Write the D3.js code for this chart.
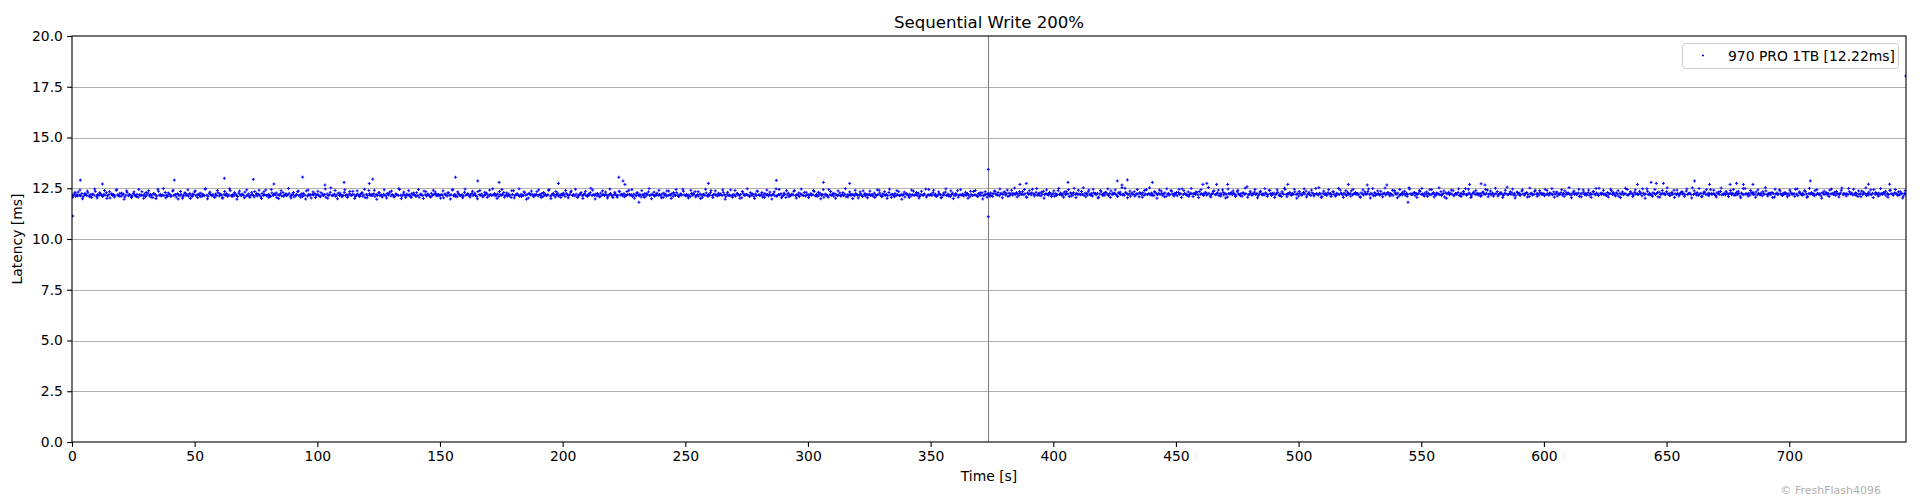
<!DOCTYPE html>
<html><head><meta charset="utf-8">
<script src="https://cdn.jsdelivr.net/npm/d3@7"></script>
<style>body{margin:0;background:#fff;} text{font-family:"DejaVu Sans",sans-serif;}</style>
</head><body><svg id="chart" width="1920" height="500"></svg>
<script>
const chartTitle = "Sequential Write 200%";
const seriesName = "970 PRO 1TB [12.22ms]";
const xLabel = "Time [s]";
const yLabel = "Latency [ms]";
const credit = "© FreshFlash4096";
const xTicks = [0,50,100,150,200,250,300,350,400,450,500,550,600,650,700];
const yTicks = [0,2.5,5,7.5,10,12.5,15,17.5,20];
const xDomain = [0, 747.6];
const yDomain = [0, 20];
const markerTime = 373.5;
const sampleStep = 0.5;
const firstStart = 0;
const secondStart = 373.5;
const extraStart = 0.25;
const extraStep = 1.0;

const latencyFirst = [
12.18,12.15,12.22,12.10,12.19,12.31,12.16,12.13,12.24,12.08,12.17,12.20,12.14,12.27,12.12,12.18,12.05,12.21,12.16,12.35,12.11,12.19,12.14,12.23,12.17,
12.09,12.20,12.16,12.28,12.13,12.18,12.02,12.22,12.15,12.19,12.12,12.40,12.17,12.14,12.25,12.10,12.18,12.21,12.07,12.16,12.30,12.13,12.19,12.15,12.11,
12.24,12.17,12.12,12.20,12.06,12.18,12.15,12.33,12.14,12.21,12.09,12.17,12.26,12.13,12.19,12.16,12.04,12.22,12.18,12.11,12.45,12.15,12.20,12.13,12.17,
12.14,12.29,12.16,12.10,12.21,12.18,12.12,12.36,12.15,12.19,12.07,12.23,12.17,12.13,12.20,12.01,12.16,12.27,12.14,12.18,12.11,12.24,12.16,12.09,12.19,
12.32,12.13,12.17,12.20,12.15,12.08,12.22,12.18,12.14,12.48,12.16,12.11,12.25,12.19,12.13,12.17,12.06,12.21,12.15,12.28,12.12,12.18,12.16,12.03,12.20,
12.15,12.23,12.10,12.17,12.38,12.14,12.19,12.12,12.21,12.16,12.09,12.26,12.18,12.13,12.20,12.15,12.31,12.11,12.17,12.22,12.05,12.16,12.19,12.14,12.34,
12.17,12.12,12.20,12.16,12.08,12.24,12.15,12.18,12.42,12.13,12.19,12.16,12.10,12.27,12.14,12.21,12.17,12.04,12.18,12.15,12.23,12.12,12.29,12.16,12.19,
12.13,12.18,12.25,12.11,12.16,12.20,12.07,12.15,12.19,12.33,12.14,12.17,12.22,12.09,12.18,12.16,12.37,12.12,12.20,12.15,12.02,12.19,12.17,12.24,12.13,
12.20,12.16,12.11,12.28,12.17,12.14,12.19,12.06,12.22,12.15,12.18,12.52,12.13,12.16,12.21,12.10,12.17,12.26,12.14,12.19,12.08,12.16,12.30,12.15,12.18,
12.12,12.22,12.17,12.14,12.35,12.19,12.09,12.16,12.21,12.13,12.18,12.25,12.11,12.17,12.04,12.20,12.15,12.39,12.14,12.18,12.16,12.23,12.10,12.19,12.15,
12.27,12.14,12.18,12.07,12.20,12.16,12.13,12.24,12.17,12.31,12.12,12.19,12.15,12.09,12.22,12.18,12.14,12.44,12.16,12.11,12.20,12.17,12.05,12.21,12.15,
12.18,12.10,12.23,12.16,12.19,12.13,12.28,12.15,12.06,12.20,12.17,12.14,12.36,12.18,12.12,12.21,12.16,12.09,12.25,12.15,12.19,12.32,12.13,12.17,12.20,
12.14,12.19,12.16,12.03,12.22,12.17,12.12,12.27,12.15,12.18,12.41,12.13,12.20,12.16,12.08,12.23,12.17,12.14,12.19,12.11,12.30,12.16,12.18,12.21,12.12,
12.17,12.24,12.13,12.19,12.15,12.10,12.34,12.18,12.16,12.21,12.07,12.14,12.19,12.26,12.17,12.12,12.20,12.15,12.47,12.18,12.13,12.16,12.22,12.09,12.19,
12.15,12.20,12.29,12.14,12.17,12.11,12.21,12.16,12.05,12.19,12.38,12.13,12.18,12.23,12.15,12.10,12.20,12.17,12.14,12.28,12.16,12.19,12.02,12.22,12.17,
12.21,12.13,12.18,12.16,12.33,12.12,12.19,12.15,12.24,12.09,12.17,12.20,12.14,12.18,12.43,12.11,12.16,12.22,12.15,12.07,12.19,12.26,12.14,12.17,12.20,
12.16,12.19,12.10,12.25,12.17,12.14,12.20,12.36,12.15,12.18,12.12,12.21,12.06,12.16,12.19,12.29,12.13,12.17,12.23,12.15,12.10,12.20,12.18,12.50,12.14,
12.19,12.15,12.22,12.12,12.18,12.08,12.26,12.16,12.20,12.14,12.31,12.17,12.11,12.19,12.24,12.15,12.04,12.18,12.21,12.13,12.16,12.35,12.17,12.19,12.12,
12.23,12.16,12.14,12.19,12.40,12.15,12.18,12.10,12.21,12.17,12.13,12.27,12.16,12.20,12.07,12.18,12.15,12.24,12.12,12.19,12.32,12.14,12.17,12.21,12.16,
12.11,12.18,12.26,12.15,12.19,12.13,12.22,12.05,12.17,12.20,12.37,12.14,12.18,12.16,12.23,12.10,12.19,12.15,12.28,12.17,12.12,12.21,12.16,12.45,12.18,
12.15,12.20,12.13,12.17,12.09,12.24,12.16,12.19,12.33,12.14,12.18,12.11,12.22,12.17,12.06,12.20,12.15,12.27,12.13,12.19,12.16,12.39,12.14,12.18,12.21,
12.17,12.12,12.25,12.16,12.19,12.14,12.30,12.18,12.08,12.21,12.15,12.17,12.42,12.13,12.20,12.16,12.11,12.23,12.18,12.14,12.19,12.03,12.26,12.15,12.17,
12.20,12.16,12.13,12.28,12.17,12.19,12.10,12.22,12.15,12.35,12.18,12.14,12.20,12.07,12.17,12.24,12.16,12.19,12.12,12.31,12.15,12.18,12.21,12.13,12.47,
12.14,12.19,12.17,12.23,12.11,12.16,12.20,12.05,12.18,12.26,12.15,12.13,12.21,12.17,12.38,12.14,12.19,12.16,12.09,12.22,12.18,12.15,12.29,12.12,12.17,
12.19,12.13,12.22,12.16,12.18,12.34,12.14,12.20,12.10,12.17,12.25,12.15,12.19,12.06,12.21,12.16,12.13,12.44,12.18,12.15,12.20,12.11,12.23,12.17,12.14,
12.16,12.27,12.12,12.19,12.15,12.21,12.08,12.18,12.16,12.32,12.14,12.20,12.17,12.13,12.24,12.19,12.02,12.16,12.22,12.15,12.37,12.18,12.12,12.20,12.16,
12.21,12.15,12.18,12.11,12.26,12.17,12.14,12.19,12.40,12.16,12.09,12.22,12.18,12.15,12.20,12.13,12.29,12.17,12.05,12.19,12.16,12.24,12.14,12.18,12.33,
12.13,12.20,12.16,12.19,12.07,12.23,12.17,12.15,12.21,12.12,12.18,12.36,12.16,12.20,12.14,12.25,12.10,12.19,12.17,12.15,12.22,12.46,12.13,12.18,12.16,
12.18,12.14,12.28,12.17,12.20,12.11,12.16,12.22,12.19,12.04,12.15,12.18,12.31,12.14,12.21,12.17,12.09,12.19,12.26,12.16,12.13,12.20,12.38,12.15,12.18,
12.16,12.21,12.12,12.19,12.15,12.24,12.17,12.08,12.20,12.14,12.34,12.18,12.16,12.11,12.23,12.19,12.15,12.27,12.13,12.17,12.20,12.06,12.18,12.16
];

const latencySecond = [
12.23,12.20,12.27,12.15,12.24,12.36,12.21,12.18,12.29,12.13,12.22,12.25,12.19,12.32,12.17,12.23,12.10,12.26,12.21,12.40,12.16,12.24,12.19,12.28,12.22,
12.14,12.25,12.21,12.33,12.18,12.23,12.07,12.27,12.20,12.24,12.17,12.45,12.22,12.19,12.30,12.15,12.23,12.26,12.12,12.21,12.35,12.18,12.24,12.20,12.16,
12.29,12.22,12.17,12.25,12.11,12.23,12.20,12.38,12.19,12.26,12.14,12.22,12.31,12.18,12.24,12.21,12.09,12.27,12.23,12.16,12.50,12.20,12.25,12.18,12.22,
12.19,12.34,12.21,12.15,12.26,12.23,12.17,12.41,12.20,12.24,12.12,12.28,12.22,12.18,12.25,12.06,12.21,12.32,12.19,12.23,12.16,12.29,12.21,12.14,12.24,
12.37,12.18,12.22,12.25,12.20,12.13,12.27,12.23,12.19,12.53,12.21,12.16,12.30,12.24,12.18,12.22,12.11,12.26,12.20,12.33,12.17,12.23,12.21,12.08,12.25,
12.20,12.28,12.15,12.22,12.43,12.19,12.24,12.17,12.26,12.21,12.14,12.31,12.23,12.18,12.25,12.20,12.36,12.16,12.22,12.27,12.10,12.21,12.24,12.19,12.39,
12.22,12.17,12.25,12.21,12.13,12.29,12.20,12.23,12.47,12.18,12.24,12.21,12.15,12.32,12.19,12.26,12.22,12.09,12.23,12.20,12.28,12.17,12.34,12.21,12.24,
12.18,12.23,12.30,12.16,12.21,12.25,12.12,12.20,12.24,12.38,12.19,12.22,12.27,12.14,12.23,12.21,12.42,12.17,12.25,12.20,12.07,12.24,12.22,12.29,12.18,
12.25,12.21,12.16,12.33,12.22,12.19,12.24,12.11,12.27,12.20,12.23,12.57,12.18,12.21,12.26,12.15,12.22,12.31,12.19,12.24,12.13,12.21,12.35,12.20,12.23,
12.17,12.27,12.22,12.19,12.40,12.24,12.14,12.21,12.26,12.18,12.23,12.30,12.16,12.22,12.09,12.25,12.20,12.44,12.19,12.23,12.21,12.28,12.15,12.24,12.20,
12.32,12.19,12.23,12.12,12.25,12.21,12.18,12.29,12.22,12.36,12.17,12.24,12.20,12.14,12.27,12.23,12.19,12.49,12.21,12.16,12.25,12.22,12.10,12.26,12.20,
12.23,12.15,12.28,12.21,12.24,12.18,12.33,12.20,12.11,12.25,12.22,12.19,12.41,12.23,12.17,12.26,12.21,12.14,12.30,12.20,12.24,12.37,12.18,12.22,12.25,
12.19,12.24,12.21,12.08,12.27,12.22,12.17,12.32,12.20,12.23,12.46,12.18,12.25,12.21,12.13,12.28,12.22,12.19,12.24,12.16,12.35,12.21,12.23,12.26,12.17,
12.22,12.29,12.18,12.24,12.20,12.15,12.39,12.23,12.21,12.26,12.12,12.19,12.24,12.31,12.22,12.17,12.25,12.20,12.52,12.23,12.18,12.21,12.27,12.14,12.24,
12.20,12.25,12.34,12.19,12.22,12.16,12.26,12.21,12.10,12.24,12.43,12.18,12.23,12.28,12.20,12.15,12.25,12.22,12.19,12.33,12.21,12.24,12.07,12.27,12.22,
12.26,12.18,12.23,12.21,12.38,12.17,12.24,12.20,12.29,12.14,12.22,12.25,12.19,12.23,12.48,12.16,12.21,12.27,12.20,12.12,12.24,12.31,12.19,12.22,12.25,
12.21,12.24,12.15,12.30,12.22,12.19,12.25,12.41,12.20,12.23,12.17,12.26,12.11,12.21,12.24,12.34,12.18,12.22,12.28,12.20,12.15,12.25,12.23,12.55,12.19,
12.24,12.20,12.27,12.17,12.23,12.13,12.31,12.21,12.25,12.19,12.36,12.22,12.16,12.24,12.29,12.20,12.09,12.23,12.26,12.18,12.21,12.40,12.22,12.24,12.17,
12.28,12.21,12.19,12.24,12.45,12.20,12.23,12.15,12.26,12.22,12.18,12.32,12.21,12.25,12.12,12.23,12.20,12.29,12.17,12.24,12.37,12.19,12.22,12.26,12.21,
12.16,12.23,12.31,12.20,12.24,12.18,12.27,12.10,12.22,12.25,12.42,12.19,12.23,12.21,12.28,12.15,12.24,12.20,12.33,12.22,12.17,12.26,12.21,12.50,12.23,
12.20,12.25,12.18,12.22,12.14,12.29,12.21,12.24,12.38,12.19,12.23,12.16,12.27,12.22,12.11,12.25,12.20,12.32,12.18,12.24,12.21,12.44,12.19,12.23,12.26,
12.22,12.17,12.30,12.21,12.24,12.19,12.35,12.23,12.13,12.26,12.20,12.22,12.47,12.18,12.25,12.21,12.16,12.28,12.23,12.19,12.24,12.08,12.31,12.20,12.22,
12.25,12.21,12.18,12.33,12.22,12.24,12.15,12.27,12.20,12.40,12.23,12.19,12.25,12.12,12.22,12.29,12.21,12.24,12.17,12.36,12.20,12.23,12.26,12.18,12.52,
12.19,12.24,12.22,12.28,12.16,12.21,12.25,12.10,12.23,12.31,12.20,12.18,12.26,12.22,12.43,12.19,12.24,12.21,12.14,12.27,12.23,12.20,12.34,12.17,12.22,
12.24,12.18,12.27,12.21,12.23,12.39,12.19,12.25,12.15,12.22,12.30,12.20,12.24,12.11,12.26,12.21,12.18,12.49,12.23,12.20,12.25,12.16,12.28,12.22,12.19,
12.21,12.32,12.17,12.24,12.20,12.26,12.13,12.23,12.21,12.37,12.19,12.25,12.22,12.18,12.29,12.24,12.07,12.21,12.27,12.20,12.42,12.23,12.17,12.25,12.21,
12.26,12.20,12.23,12.16,12.31,12.22,12.19,12.24,12.45,12.21,12.14,12.27,12.23,12.20,12.25,12.18,12.34,12.22,12.10,12.24,12.21,12.29,12.19,12.23,12.38,
12.18,12.25,12.21,12.24,12.12,12.28,12.22,12.20,12.26,12.17,12.23,12.41,12.21,12.25,12.19,12.30,12.15,12.24,12.22,12.20,12.27,12.51,12.18,12.23,12.21,
12.23,12.19,12.33,12.22,12.25,12.16,12.21,12.27,12.24,12.09,12.20,12.23,12.36,12.19,12.26,12.22,12.14,12.24,12.31,12.21,12.18,12.25,12.43,12.20,12.23,
12.21,12.26,12.17,12.24,12.20,12.29,12.22,12.13,12.25,12.19,12.39,12.23,12.21,12.16,12.28,12.24,12.20,12.32,12.18,12.22,12.25,12.11,12.23,12.21,12.24
];

const latencyExtra = [
12.05,12.30,12.12,12.41,11.98,12.24,12.36,12.08,12.20,12.46,12.02,12.28,12.14,12.39,12.00,12.33,12.22,12.07,12.43,12.11,12.26,11.96,12.37,12.18,12.04,
12.32,12.09,12.44,12.16,12.01,12.29,12.38,12.06,12.23,11.99,12.35,12.13,12.48,12.03,12.27,12.10,12.40,12.19,11.97,12.34,12.08,12.25,12.42,12.00,12.21,
12.37,12.04,12.26,12.12,12.45,11.98,12.31,12.17,12.06,12.39,12.23,12.01,12.34,12.14,12.47,12.09,12.28,11.96,12.36,12.20,12.03,12.42,12.11,12.30,12.07,
12.24,12.40,12.00,12.33,12.15,12.05,12.44,12.19,12.27,11.99,12.38,12.10,12.22,12.49,12.02,12.29,12.13,12.36,12.06,12.25,11.97,12.41,12.18,12.32,12.04,
12.35,12.08,12.21,12.46,12.01,12.30,12.16,12.39,11.98,12.26,12.12,12.43,12.05,12.34,12.20,12.00,12.37,12.09,12.28,12.45,12.03,12.23,12.14,12.40,11.96,
12.29,12.11,12.42,12.02,12.25,12.36,12.07,12.19,12.48,11.99,12.31,12.15,12.38,12.04,12.27,12.10,12.44,12.21,12.00,12.33,12.17,12.06,12.40,12.24,12.13,
12.01,12.37,12.18,12.28,11.97,12.43,12.09,12.32,12.14,12.03,12.46,12.22,12.07,12.35,12.26,11.98,12.39,12.12,12.30,12.05,12.41,12.16,12.24,12.00,12.34,
12.44,12.06,12.27,12.13,12.38,12.02,12.21,12.47,12.10,12.32,11.96,12.25,12.36,12.08,12.19,12.42,12.04,12.29,12.15,12.40,11.99,12.23,12.34,12.11,12.05,
12.26,12.39,12.03,12.31,12.16,12.45,12.07,12.22,12.00,12.35,12.13,12.28,12.41,11.97,12.24,12.09,12.37,12.18,12.02,12.46,12.12,12.30,12.06,12.33,12.20,
12.08,12.34,12.20,12.43,12.01,12.27,12.14,12.38,12.05,12.23,12.48,11.98,12.31,12.17,12.40,12.03,12.26,12.11,12.36,12.00,12.29,12.44,12.09,12.21,12.35,
12.12,12.02,12.40,12.25,12.07,12.33,11.99,12.19,12.45,12.10,12.28,12.04,12.37,12.15,12.22,12.42,11.96,12.30,12.13,12.06,12.39,12.24,12.01,12.34,12.18,
12.47,12.09,12.23,12.00,12.36,12.16,12.29,12.05,12.41,12.20,11.97,12.32,12.11,12.44,12.03,12.26,12.38,12.08,12.19,12.35,12.02,12.27,12.46,12.14,12.30,
12.04,12.22,12.39,12.11,12.30,11.98,12.43,12.17,12.06,12.34,12.25,12.01,12.37,12.13,12.28,12.48,12.07,12.21,11.99,12.40,12.15,12.32,12.09,12.24,12.03,
12.36,12.18,12.05,12.42,12.27,12.10,12.33,12.00,12.45,12.20,12.08,12.38,12.14,11.96,12.31,12.23,12.04,12.41,12.16,12.29,12.02,12.35,12.19,12.07,12.44,
12.21,12.40,12.10,12.32,12.03,12.26,12.47,12.12,12.37,11.99,12.24,12.06,12.43,12.18,12.30,12.01,12.35,12.15,12.39,12.09,12.28,11.97,12.33,12.22,12.11,
12.10,12.35,12.17,12.46,12.03,12.29,12.41,12.13,12.25,12.51,12.07,12.33,12.19,12.44,12.05,12.38,12.27,12.12,12.48,12.16,12.31,12.01,12.42,12.23,12.09,
12.37,12.14,12.49,12.21,12.06,12.34,12.43,12.11,12.28,12.04,12.40,12.18,12.52,12.08,12.32,12.15,12.45,12.24,12.02,12.39,12.13,12.30,12.47,12.05,12.26,
12.42,12.09,12.31,12.17,12.50,12.03,12.36,12.22,12.11,12.44,12.28,12.06,12.39,12.19,12.52,12.14,12.33,12.01,12.41,12.25,12.08,12.47,12.16,12.35,12.12,
12.29,12.45,12.05,12.38,12.20,12.10,12.49,12.24,12.32,12.04,12.43,12.15,12.27,12.54,12.07,12.34,12.18,12.41,12.11,12.30,12.02,12.46,12.23,12.37,12.09,
12.40,12.13,12.26,12.51,12.06,12.35,12.21,12.44,12.03,12.31,12.17,12.48,12.10,12.39,12.25,12.05,12.42,12.14,12.33,12.50,12.08,12.28,12.19,12.45,12.01,
12.34,12.16,12.47,12.07,12.30,12.41,12.12,12.24,12.53,12.04,12.36,12.20,12.43,12.09,12.32,12.15,12.49,12.26,12.05,12.38,12.22,12.11,12.45,12.29,12.18,
12.06,12.42,12.23,12.33,12.02,12.48,12.14,12.37,12.19,12.08,12.51,12.27,12.12,12.40,12.31,12.03,12.44,12.17,12.35,12.10,12.46,12.21,12.29,12.05,12.39,
12.49,12.11,12.32,12.18,12.43,12.07,12.26,12.52,12.15,12.37,12.01,12.30,12.41,12.13,12.24,12.47,12.09,12.34,12.20,12.45,12.04,12.28,12.39,12.16,12.10,
12.31,12.44,12.08,12.36,12.21,12.50,12.12,12.27,12.05,12.40,12.18,12.33,12.46,12.02,12.29,12.14,12.42,12.23,12.07,12.51,12.17,12.35,12.11,12.38,12.25,
12.13,12.39,12.25,12.48,12.06,12.32,12.19,12.43,12.10,12.28,12.53,12.03,12.36,12.22,12.45,12.08,12.31,12.16,12.41,12.05,12.34,12.49,12.14,12.26,12.40,
12.17,12.07,12.45,12.30,12.12,12.38,12.04,12.24,12.50,12.15,12.33,12.09,12.42,12.20,12.27,12.47,12.01,12.35,12.18,12.11,12.44,12.29,12.06,12.39,12.23,
12.52,12.14,12.28,12.05,12.41,12.21,12.34,12.10,12.46,12.25,12.02,12.37,12.16,12.49,12.08,12.31,12.43,12.13,12.24,12.40,12.07,12.32,12.51,12.19,12.35,
12.09,12.27,12.44,12.16,12.35,12.03,12.48,12.22,12.11,12.39,12.30,12.06,12.42,12.18,12.33,12.53,12.12,12.26,12.04,12.45,12.20,12.37,12.14,12.29,12.08,
12.41,12.23,12.10,12.47,12.32,12.15,12.38,12.05,12.50,12.25,12.13,12.43,12.19,12.01,12.36,12.28,12.09,12.46,12.21,12.34,12.07,12.40,12.24,12.12,12.49,
12.26,12.45,12.15,12.37,12.08,12.31,12.52,12.17,12.42,12.04,12.29,12.11,12.48,12.23,12.35,12.06,12.40,12.20,12.44,12.14,12.33,12.02,12.38,12.27,12.16
];

const outlierTimes = [0.3,3.4,12.4,41.7,62.1,73.9,82.3,94.0,103.1,110.9,121.2,122.6,156.3,165.4,174.1,198.3,222.9,224.6,225.4,231.1,259.4,287.1,306.3,317.0,373.5,373.5,386.4,389.0,406.0,426.1,428.0,430.2,440.4,461.0,462.6,466.6,471.1,495.6,520.3,528.0,536.0,544.6,569.7,574.4,576.0,638.1,643.7,645.8,648.7,661.4,667.5,675.9,678.5,681.3,685.2,708.6,732.3,740.9,747.5];
const outlierValues = [11.13,12.90,12.71,12.90,12.99,12.94,12.71,13.05,12.66,12.79,12.73,12.95,13.04,12.86,12.79,12.74,13.04,12.86,12.69,11.81,12.74,12.89,12.79,12.74,13.43,11.10,12.69,12.74,12.79,12.86,12.66,12.91,12.79,12.69,12.74,12.69,12.69,12.69,12.69,12.66,12.66,11.81,12.69,12.72,12.66,12.69,12.79,12.74,12.74,12.86,12.69,12.69,12.74,12.69,12.69,12.86,12.70,12.70,18.03];

// ---- build points ----
const points = [];
latencyFirst.forEach((v,i) => points.push({t: firstStart + i*sampleStep, v}));
latencySecond.forEach((v,i) => points.push({t: secondStart + i*sampleStep, v}));
latencyExtra.forEach((v,i) => points.push({t: extraStart + i*extraStep, v}));
outlierTimes.forEach((t,i) => points.push({t, v: outlierValues[i]}));

const W = 1920, H = 500;
const plot = {left: 72, right: 1906, top: 36, bottom: 442};
const x = d3.scaleLinear().domain(xDomain).range([plot.left, plot.right]);
const y = d3.scaleLinear().domain(yDomain).range([plot.bottom, plot.top]);

const svg = d3.select("#chart");
svg.append("rect").attr("width", W).attr("height", H).attr("fill", "#fff");

svg.append("defs").append("clipPath").attr("id","clip")
  .append("rect").attr("x", plot.left).attr("y", plot.top)
  .attr("width", plot.right - plot.left).attr("height", plot.bottom - plot.top);

// grid
svg.append("g").selectAll("line").data(yTicks.filter(d => d > 0 && d < 20)).join("line")
  .attr("x1", plot.left).attr("x2", plot.right)
  .attr("y1", d => Math.round(y(d)) + 0.5).attr("y2", d => Math.round(y(d)) + 0.5)
  .attr("stroke", "#b0b0b0").attr("stroke-width", 1.1);

// marker line
svg.append("line")
  .attr("x1", Math.round(x(markerTime)) + 0.5).attr("x2", Math.round(x(markerTime)) + 0.5)
  .attr("y1", plot.top).attr("y2", plot.bottom)
  .attr("stroke", "#808080").attr("stroke-width", 1.1);

// points
const s = 1.5;
svg.append("g").attr("clip-path", "url(#clip)")
  .append("path")
  .attr("d", points.map(p => {
    const px = x(p.t), py = y(p.v);
    return `M${px - s},${py}h${2*s}M${px},${py - s}v${2*s}`;
  }).join(""))
  .attr("stroke", "#0000ff").attr("stroke-width", 1).attr("fill", "none");

// axes
const fs = 13.9;
const xAxis = svg.append("g").attr("transform", `translate(0,${plot.bottom})`)
  .call(d3.axisBottom(x).tickValues(xTicks).tickFormat(d3.format("d")).tickSize(4.9).tickPadding(4.2));
const yAxis = svg.append("g").attr("transform", `translate(${plot.left},0)`)
  .call(d3.axisLeft(y).tickValues(yTicks).tickFormat(d3.format(".1f")).tickSize(4.9).tickPadding(4.2));
[xAxis, yAxis].forEach(g => {
  g.select(".domain").remove();
  g.selectAll("line").attr("stroke", "#000").attr("stroke-width", 1.1);
  g.selectAll("text").attr("fill", "#000").style("font-size", fs + "px").style("font-family", "DejaVu Sans");
});

// spines
svg.append("rect").attr("x", plot.left).attr("y", plot.top)
  .attr("width", plot.right - plot.left).attr("height", plot.bottom - plot.top)
  .attr("fill", "none").attr("stroke", "#000").attr("stroke-width", 1.1);

// title & labels
svg.append("text").attr("x", (plot.left + plot.right)/2).attr("y", 27.5)
  .attr("text-anchor", "middle").style("font-size", "16.6px").text(chartTitle);
svg.append("text").attr("x", (plot.left + plot.right)/2).attr("y", 481)
  .attr("text-anchor", "middle").style("font-size", fs + "px").text(xLabel);
svg.append("text").attr("transform", `translate(22,${(plot.top + plot.bottom)/2}) rotate(-90)`)
  .attr("text-anchor", "middle").style("font-size", fs + "px").text(yLabel);
svg.append("text").attr("x", 1881).attr("y", 494).attr("text-anchor", "end")
  .attr("fill", "#b0b0b0").style("font-size", "11px").text(credit);

// legend
const lg = svg.append("g");
lg.append("rect").attr("x", 1682.5).attr("y", 43.5).attr("width", 216).attr("height", 25).attr("rx", 3)
  .attr("fill", "#fff").attr("fill-opacity", 0.8).attr("stroke", "#cccccc").attr("stroke-width", 1);
lg.append("path").attr("d", `M${1703 - 1},55.5h2M1703,${55.5 - 1}v2`)
  .attr("stroke", "#0000ff").attr("stroke-width", 1);
lg.append("text").attr("x", 1728).attr("y", 61).style("font-size", fs + "px").text(seriesName);
</script></body></html>
